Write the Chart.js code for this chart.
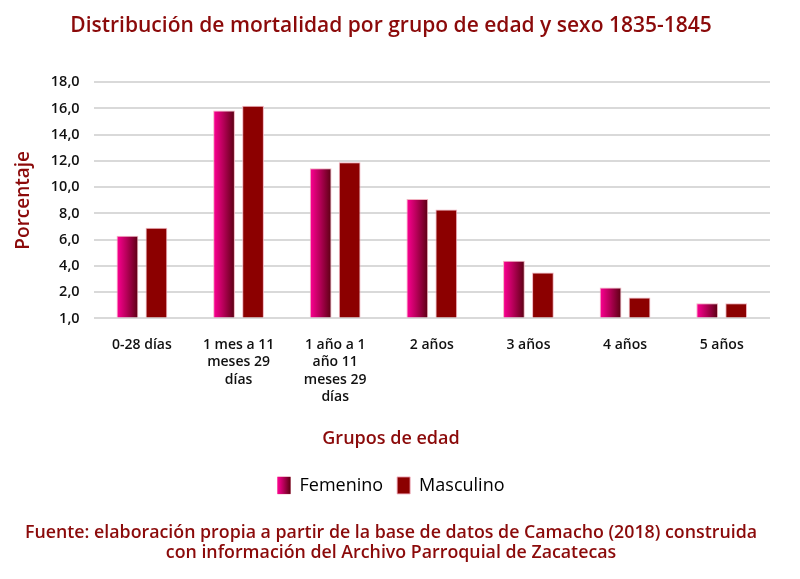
<!DOCTYPE html>
<html>
<head>
<meta charset="utf-8">
<script src="https://cdn.jsdelivr.net/npm/chart.js@4/dist/chart.umd.min.js"></script>
<style>
  html, body { margin: 0; padding: 0; background: #fff; }
  #wrap { width: 800px; height: 579px; }
</style>
</head>
<body>
<div id="wrap"><canvas id="grafico__mortalidad"></canvas></div>
<script>
// datos
const gruposEdad = [
    '0-28 días',
    ['1 mes a 11', 'meses 29', 'días'],
    ['1 año a 1', 'año 11', 'meses 29', 'días'],
    '2 años',
    '3 años',
    '4 años',
    '5 años'
]
const femenino = [6.3, 15.85, 11.45, 9.1, 4.4, 2.35, 1.15]
const masculino = [6.9, 16.2, 11.9, 8.3, 3.5, 1.6, 1.15]
const marcasY = [0, 2, 4, 6, 8, 10, 12, 14, 16, 18]
const etiquetasY = ['1,0', '2,0', '4,0', '6,0', '8,0', '10,0', '12,0', '14,0', '16,0', '18,0']

const rojoOscuro = '#8b0a0a'

function degradado(ctx, x0, x1) {
    let g = ctx.createLinearGradient(x0, 0, x1, 0)
    g.addColorStop(0, '#ff0095')
    g.addColorStop(0.45, '#b8005a')
    g.addColorStop(1, '#5a0010')
    return g
}

// pinta las barras femeninas con degradado horizontal
const pluginDegradado = {
    id: 'degradado',
    beforeDatasetsDraw(chart) {
        let meta = chart.getDatasetMeta(0)
        meta.data.forEach(bar => {
            bar.options.backgroundColor = degradado(chart.ctx, bar.x - bar.width / 2, bar.x + bar.width / 2)
        })
    },
    afterDraw(chart) {
        let legend = chart.legend
        if (!legend || !legend.legendHitBoxes.length) return
        let box = legend.legendHitBoxes[0]
        let w = legend.options.labels.boxWidth
        let h = legend.options.labels.boxHeight
        let top = box.top + (box.height - h) / 2
        let ctx = chart.ctx
        ctx.save()
        ctx.fillStyle = degradado(ctx, box.left, box.left + w)
        ctx.fillRect(box.left, top, w, h)
        ctx.restore()
    }
}

let mortalidad__grafico = document.getElementById('grafico__mortalidad').getContext('2d')
var mortalidadChart = new Chart(mortalidad__grafico, {
    type: 'bar',
    data: {
        labels: gruposEdad,
        datasets: [{
            label: 'Femenino',
            data: femenino,
            backgroundColor: () => '#d0006f',
            borderColor: 'rgba(240, 170, 185, 0.9)',
            borderWidth: 1,
            categoryPercentage: 0.6,
            barPercentage: 0.75
        }, {
            label: 'Masculino',
            data: masculino,
            backgroundColor: '#8c0000',
            borderColor: 'rgba(240, 170, 185, 0.9)',
            borderWidth: 1,
            categoryPercentage: 0.6,
            barPercentage: 0.75
        }]
    },
    options: {
        responsive: true,
        maintainAspectRatio: false,
        animation: false,
        layout: { padding: { left: 12, right: 30, top: 0, bottom: 12 } },
        plugins: {
            title: {
                display: true,
                text: 'Distribución de mortalidad por grupo de edad y sexo 1835-1845',
                color: rojoOscuro,
                font: { family: 'Open Sans', size: 21, weight: '600' },
                padding: { top: 13, bottom: 44 },
                align: 'center'
            },
            subtitle: {
                display: true,
                position: 'bottom',
                text: ['Fuente: elaboración propia a partir de la base de datos de Camacho (2018) construida',
                       'con información del Archivo Parroquial de Zacatecas'],
                color: rojoOscuro,
                font: { family: 'Open Sans', size: 17.8, weight: '600', lineHeight: 1.14 },
                padding: { top: 18, bottom: 4 }
            },
            legend: {
                position: 'bottom',
                // el titulo del eje x va como titulo de la leyenda (centrado como en el original)
                title: {
                    display: true,
                    text: 'Grupos de edad',
                    color: rojoOscuro,
                    font: { family: 'Open Sans', size: 18, weight: '600' },
                    padding: { top: 14, bottom: 11 }
                },
                labels: {
                    color: '#000',
                    font: { family: 'Open Sans', size: 18 },
                    boxWidth: 13,
                    boxHeight: 17,
                    padding: 14
                }
            },
            tooltip: { enabled: false }
        },
        scales: {
            x: {
                grid: { display: false },
                border: { display: false },
                ticks: {
                    color: '#111',
                    font: { family: 'Open Sans', size: 14, weight: '600', lineHeight: 1.24 },
                    padding: 10,
                    maxRotation: 0,
                    autoSkip: false
                }
            },
            y: {
                min: 0,
                max: 18,
                afterBuildTicks: axis => { axis.ticks = marcasY.map(v => ({ value: v })) },
                grid: { color: '#d9d9d9', lineWidth: 2, drawTicks: false },
                border: { display: false },
                ticks: {
                    color: '#111',
                    font: { family: 'Open Sans', size: 14.5, weight: '600' },
                    padding: 14,
                    callback: (v) => etiquetasY[marcasY.indexOf(v)]
                },
                title: {
                    display: true,
                    text: 'Porcentaje',
                    color: rojoOscuro,
                    font: { family: 'Open Sans', size: 19, weight: '600' },
                    padding: { top: 0, bottom: 2 }
                }
            }
        }
    },
    plugins: [pluginDegradado]
})
</script>
</body>
</html>
